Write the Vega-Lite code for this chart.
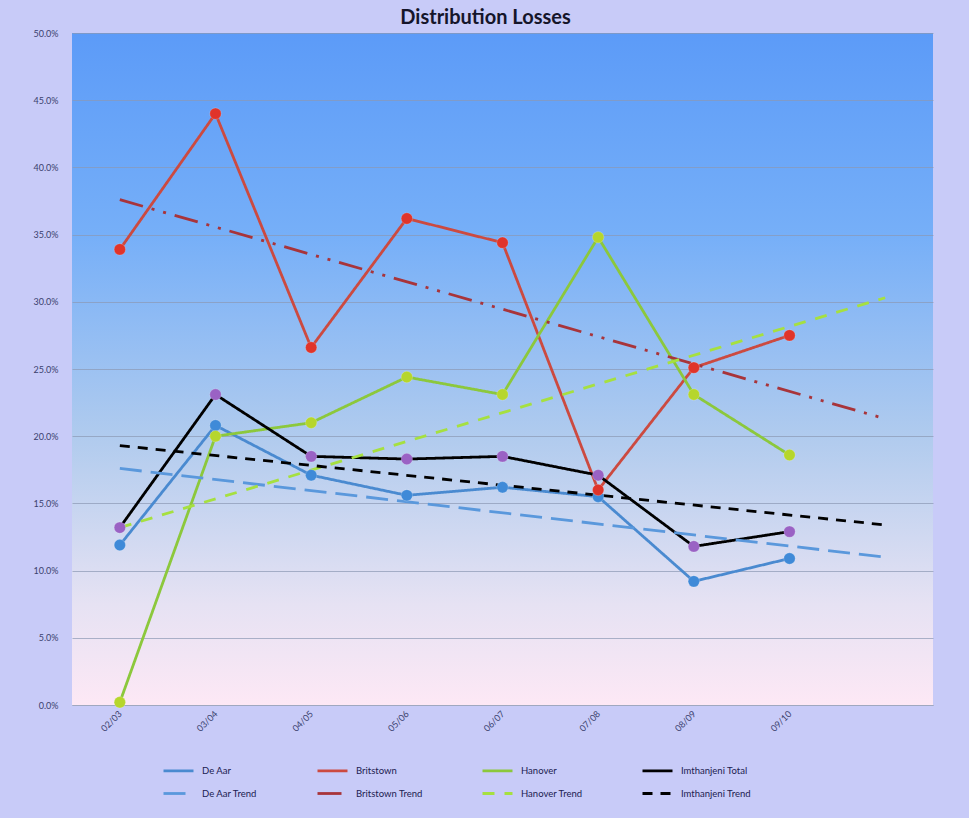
{
  "$schema": "https://vega.github.io/schema/vega-lite/v6.json",
  "width": 861,
  "height": 672,
  "autosize": "none",
  "padding": {"left": 72, "top": 33, "right": 36, "bottom": 113},
  "background": "#c8cbf8",
  "view": {
    "stroke": null,
    "fill": {
      "gradient": "linear", "x1": 0, "y1": 0, "x2": 0, "y2": 1,
      "stops": [
        {"offset": 0, "color": "#5c9bf8"},
        {"offset": 0.3, "color": "#76aff8"},
        {"offset": 0.6, "color": "#b0cbee"},
        {"offset": 0.85, "color": "#e6e2f3"},
        {"offset": 1, "color": "#fde8f5"}
      ]
    }
  },
  "title": {
    "text": "Distribution Losses",
    "font": "Lato",
    "fontSize": 20,
    "fontWeight": "bold",
    "color": "#15152a",
    "anchor": "middle",
    "dx": -17,
    "offset": 1
  },
  "config": {
    "font": "Lato",
    "axis": {"labelFont": "Lato", "labelFontSize": 9, "labelColor": "#3a3f6e", "title": null},
    "legend": {"labelFont": "Lato", "labelFontSize": 9.5, "labelColor": "#202050"}
  },
  "data": {
    "values": [
      {"series": "De Aar", "year": "02/03", "value": 0.119},
      {"series": "De Aar", "year": "03/04", "value": 0.208},
      {"series": "De Aar", "year": "04/05", "value": 0.171},
      {"series": "De Aar", "year": "05/06", "value": 0.156},
      {"series": "De Aar", "year": "06/07", "value": 0.162},
      {"series": "De Aar", "year": "07/08", "value": 0.155},
      {"series": "De Aar", "year": "08/09", "value": 0.092},
      {"series": "De Aar", "year": "09/10", "value": 0.109},
      {"series": "Britstown", "year": "02/03", "value": 0.339},
      {"series": "Britstown", "year": "03/04", "value": 0.440},
      {"series": "Britstown", "year": "04/05", "value": 0.266},
      {"series": "Britstown", "year": "05/06", "value": 0.362},
      {"series": "Britstown", "year": "06/07", "value": 0.344},
      {"series": "Britstown", "year": "07/08", "value": 0.160},
      {"series": "Britstown", "year": "08/09", "value": 0.251},
      {"series": "Britstown", "year": "09/10", "value": 0.275},
      {"series": "Hanover", "year": "02/03", "value": 0.002},
      {"series": "Hanover", "year": "03/04", "value": 0.200},
      {"series": "Hanover", "year": "04/05", "value": 0.210},
      {"series": "Hanover", "year": "05/06", "value": 0.244},
      {"series": "Hanover", "year": "06/07", "value": 0.231},
      {"series": "Hanover", "year": "07/08", "value": 0.348},
      {"series": "Hanover", "year": "08/09", "value": 0.231},
      {"series": "Hanover", "year": "09/10", "value": 0.186},
      {"series": "Imthanjeni Total", "year": "02/03", "value": 0.132},
      {"series": "Imthanjeni Total", "year": "03/04", "value": 0.231},
      {"series": "Imthanjeni Total", "year": "04/05", "value": 0.185},
      {"series": "Imthanjeni Total", "year": "05/06", "value": 0.183},
      {"series": "Imthanjeni Total", "year": "06/07", "value": 0.185},
      {"series": "Imthanjeni Total", "year": "07/08", "value": 0.171},
      {"series": "Imthanjeni Total", "year": "08/09", "value": 0.118},
      {"series": "Imthanjeni Total", "year": "09/10", "value": 0.129},
      {"series": "De Aar Trend", "year": "02/03", "value": 0.176},
      {"series": "De Aar Trend", "year": "10/11", "value": 0.110},
      {"series": "Britstown Trend", "year": "02/03", "value": 0.376},
      {"series": "Britstown Trend", "year": "10/11", "value": 0.213},
      {"series": "Hanover Trend", "year": "02/03", "value": 0.132},
      {"series": "Hanover Trend", "year": "10/11", "value": 0.303},
      {"series": "Imthanjeni Trend", "year": "02/03", "value": 0.193},
      {"series": "Imthanjeni Trend", "year": "10/11", "value": 0.134}
    ]
  },
  "encoding": {
    "x": {
      "field": "year",
      "type": "nominal",
      "scale": {"domain": ["02/03", "03/04", "04/05", "05/06", "06/07", "07/08", "08/09", "09/10", "10/11"], "paddingInner": 0, "paddingOuter": 0},
      "axis": {
        "labelAngle": -45,
        "labelAlign": "right",
        "labelBaseline": "middle",
        "labelPadding": 7,
        "labelExpr": "datum.value == '10/11' ? '' : datum.label",
        "domain": true,
        "domainColor": "#a0a8c0",
        "ticks": false,
        "grid": false
      }
    },
    "y": {
      "field": "value",
      "type": "quantitative",
      "scale": {"domain": [0, 0.5], "nice": false},
      "axis": {
        "format": ".1%",
        "values": [0, 0.05, 0.1, 0.15, 0.2, 0.25, 0.3, 0.35, 0.4, 0.45, 0.5],
        "domain": false,
        "ticks": false,
        "labelPadding": 14,
        "grid": true,
        "gridColor": "#8c98b4",
        "gridOpacity": 0.7,
        "gridWidth": 1
      }
    }
  },
  "layer": [
    {
      "mark": {"type": "line", "strokeCap": "butt"},
      "encoding": {
        "color": {
          "field": "series",
          "type": "nominal",
          "scale": {
            "domain": ["De Aar", "Britstown", "Hanover", "Imthanjeni Total", "De Aar Trend", "Britstown Trend", "Hanover Trend", "Imthanjeni Trend"],
            "range": ["#4a8ad0", "#cc4a40", "#8cc83c", "#000000", "#5a98dc", "#a8343a", "#a6e040", "#000000"]
          },
          "legend": {
            "title": null,
            "orient": "none",
            "direction": "horizontal",
            "legendX": 90,
            "legendY": 721,
            "columns": 4,
            "columnPadding": 53,
            "rowPadding": -2,
            "symbolType": "stroke",
            "symbolSize": 900,
            "symbolStrokeWidth": 3,
            "labelOffset": 7
          }
        },
        "strokeDash": {
          "field": "series",
          "type": "nominal",
          "scale": {
            "domain": ["De Aar", "Britstown", "Hanover", "Imthanjeni Total", "De Aar Trend", "Britstown Trend", "Hanover Trend", "Imthanjeni Trend"],
            "range": [[1, 0], [1, 0], [1, 0], [1, 0], [22, 9], [24, 9, 3, 9, 3, 9], [12, 10], [10, 8]]
          }
        },
        "strokeWidth": {
          "field": "series",
          "type": "ordinal",
          "scale": {
            "domain": ["De Aar", "Britstown", "Hanover", "Imthanjeni Total", "De Aar Trend", "Britstown Trend", "Hanover Trend", "Imthanjeni Trend"],
            "range": [2.8, 2.8, 2.8, 3.8, 2.6, 2.8, 2.8, 3]
          },
          "legend": null
        },
        "order": {"field": "series", "type": "nominal"}
      }
    },
    {
      "transform": [{"filter": "indexof(datum.series, 'Trend') < 0"}],
      "mark": {"type": "point", "filled": true, "opacity": 1, "size": 130, "stroke": "#ffffff", "strokeWidth": 0.5, "strokeOpacity": 0.4},
      "encoding": {
        "fill": {
          "field": "series",
          "type": "nominal",
          "scale": {
            "domain": ["De Aar", "Britstown", "Hanover", "Imthanjeni Total"],
            "range": ["#3f8ad8", "#e0342a", "#b6d62c", "#9a62c4"]
          },
          "legend": null
        }
      }
    }
  ]
}
